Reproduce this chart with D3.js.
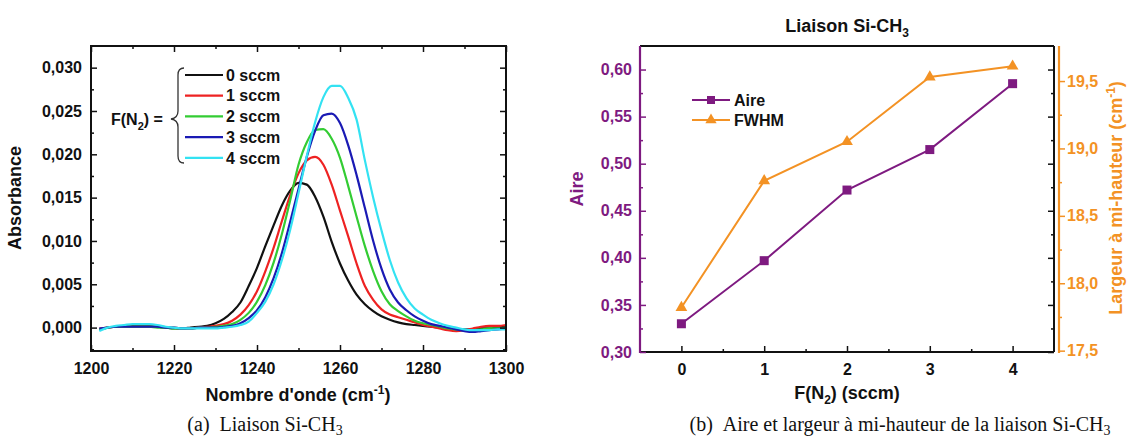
<!DOCTYPE html>
<html><head><meta charset="utf-8">
<script src="https://cdn.jsdelivr.net/npm/d3@7"></script>
<style>
body{margin:0;background:#fff;}
svg{display:block;}
text{font-family:"Liberation Sans",Arial,sans-serif;}
</style></head><body>
<svg id="c" width="1137" height="445"></svg>
<script>
// ---------- data: panel (a) ----------
const wavenumber = [1202,1204,1206,1208,1210,1212,1214,1216,1218,1220,1222,1224,1226,1228,1230,1232,1234,1236,1238,1240,1242,1244,1246,1248,1250,1252,1254,1256,1258,1260,1262,1264,1266,1268,1270,1272,1274,1276,1278,1280,1282,1284,1286,1288,1290,1292,1294,1296,1298,1300];
const abs0 = [-0.0002,0.0000,0.0001,0.0002,0.0002,0.0002,0.0002,0.0001,0.0000,-0.0001,-0.0001,0.0000,0.0001,0.0002,0.0005,0.0010,0.0018,0.0029,0.0048,0.0069,0.0094,0.0118,0.0141,0.0158,0.0167,0.0165,0.0151,0.0128,0.0099,0.0074,0.0054,0.0038,0.0027,0.0019,0.0013,0.0009,0.0006,0.0004,0.0003,0.0002,0.0001,0.0000,-0.0001,-0.0002,-0.0002,-0.0002,-0.0001,-0.0001,0.0000,0.0001];
const abs1 = [-0.0001,0.0000,0.0001,0.0001,0.0001,0.0001,0.0001,0.0001,0.0000,0.0000,-0.0001,-0.0001,0.0000,0.0001,0.0002,0.0004,0.0008,0.0015,0.0026,0.0042,0.0065,0.0092,0.0123,0.0153,0.0178,0.0193,0.0197,0.0188,0.0165,0.0135,0.0105,0.0074,0.0048,0.0032,0.0021,0.0015,0.0012,0.0009,0.0006,0.0003,0.0001,-0.0001,-0.0003,-0.0004,-0.0003,-0.0001,0.0001,0.0002,0.0002,0.0003];
const abs2 = [-0.0002,0.0000,0.0001,0.0001,0.0001,0.0001,0.0001,0.0000,0.0000,-0.0001,-0.0001,-0.0001,0.0000,0.0000,0.0001,0.0002,0.0004,0.0009,0.0017,0.0030,0.0049,0.0075,0.0108,0.0147,0.0188,0.0214,0.0228,0.0229,0.0218,0.0196,0.0163,0.0128,0.0094,0.0065,0.0042,0.0027,0.0019,0.0013,0.0008,0.0005,0.0003,0.0001,-0.0001,-0.0002,-0.0003,-0.0003,-0.0002,-0.0001,-0.0001,0.0000];
const abs3 = [-0.0001,0.0000,0.0001,0.0001,0.0001,0.0001,0.0001,0.0001,0.0000,0.0000,-0.0001,-0.0001,0.0000,0.0000,0.0000,0.0001,0.0002,0.0005,0.0011,0.0020,0.0035,0.0057,0.0086,0.0122,0.0160,0.0197,0.0227,0.0245,0.0247,0.0236,0.0210,0.0176,0.0138,0.0100,0.0068,0.0044,0.0029,0.0020,0.0013,0.0008,0.0004,0.0002,0.0000,-0.0002,-0.0004,-0.0005,-0.0004,-0.0003,-0.0002,-0.0001];
const abs4 = [-0.0004,0.0000,0.0002,0.0003,0.0004,0.0004,0.0004,0.0003,0.0001,0.0000,-0.0001,-0.0001,-0.0001,-0.0001,-0.0001,0.0000,0.0001,0.0003,0.0007,0.0017,0.0030,0.0050,0.0078,0.0113,0.0155,0.0198,0.0237,0.0266,0.0279,0.0279,0.0265,0.0240,0.0193,0.0150,0.0112,0.0078,0.0052,0.0034,0.0022,0.0015,0.0009,0.0005,0.0002,0.0000,-0.0002,-0.0003,-0.0003,-0.0003,-0.0002,-0.0002];
const seriesLabels = ["0 sccm","1 sccm","2 sccm","3 sccm","4 sccm"];
const seriesColors = ["#111111","#ee2222","#33cc33","#1a1ab4","#33e2f2"];
const xTicksA = [1200,1220,1240,1260,1280,1300];
const yTicksA = [0,0.005,0.010,0.015,0.020,0.025,0.030];

// ---------- data: panel (b) ----------
const flux = [0,1,2,3,4];
const aire = [0.330,0.397,0.472,0.515,0.585];
const fwhm = [17.82,18.76,19.05,19.53,19.61];
const xTicksB = [0,1,2,3,4];
const yTicksBL = [0.30,0.35,0.40,0.45,0.50,0.55,0.60];
const yTicksBR = [17.5,18.0,18.5,19.0,19.5];

const svg = d3.select("#c");
const fr = d3.formatLocale({decimal:",",thousands:"\u00a0",grouping:[3],currency:["",""]});
const FONT = '"Liberation Sans",Arial,sans-serif';

function styleAxis(g, color, fs){
  g.select(".domain").remove();
  g.selectAll("line").attr("stroke",color).attr("stroke-width",1.5);
  g.selectAll("text").attr("fill",color).style("font-size",(fs||16)+"px")
   .style("font-weight","bold").style("font-family",FONT);
}
function minors(majors){
  const out=[]; for(let i=0;i<majors.length-1;i++) out.push((majors[i]+majors[i+1])/2); return out;
}

// ================= Panel (a) =================
const xA = d3.scaleLinear().domain([1200,1300]).range([91,506]);
const yA = d3.scaleLinear().domain([-0.0027,0.0325]).range([351,46]);
const gA = svg.append("g");
gA.append("defs").append("clipPath").attr("id","clipA").append("rect")
  .attr("x",91).attr("y",46).attr("width",415).attr("height",305);

const series = [abs0,abs1,abs2,abs3,abs4];
const line = d3.line().x((d,i)=>xA(wavenumber[i])).y(d=>yA(d)).curve(d3.curveMonotoneX);
gA.append("g").attr("clip-path","url(#clipA)").selectAll("path").data(series).join("path")
  .attr("d",line).attr("fill","none").attr("stroke",(d,i)=>seriesColors[i]).attr("stroke-width",2.2);

// axes
const minXA = minors(xTicksA), minYA = minors(yTicksA).concat([-0.0025]);
gA.append("g").attr("transform","translate(0,351)")
  .call(d3.axisBottom(xA).tickValues(xTicksA).tickSize(-6).tickPadding(12).tickFormat(d3.format("d")))
  .call(g=>styleAxis(g,"#111"));
gA.append("g").attr("transform","translate(0,351)")
  .call(d3.axisBottom(xA).tickValues(minXA).tickSize(-3).tickFormat("")).call(g=>styleAxis(g,"#111"));
gA.append("g").attr("transform","translate(0,46)")
  .call(d3.axisTop(xA).tickValues(xTicksA).tickSize(-6).tickFormat("")).call(g=>styleAxis(g,"#111"));
gA.append("g").attr("transform","translate(0,46)")
  .call(d3.axisTop(xA).tickValues(minXA).tickSize(-3).tickFormat("")).call(g=>styleAxis(g,"#111"));
gA.append("g").attr("transform","translate(91,0)")
  .call(d3.axisLeft(yA).tickValues(yTicksA).tickSize(-6).tickPadding(9).tickFormat(fr.format(".3f")))
  .call(g=>styleAxis(g,"#111"));
gA.append("g").attr("transform","translate(91,0)")
  .call(d3.axisLeft(yA).tickValues(minYA).tickSize(-3).tickFormat("")).call(g=>styleAxis(g,"#111"));
gA.append("g").attr("transform","translate(506,0)")
  .call(d3.axisRight(yA).tickValues(yTicksA).tickSize(-6).tickFormat("")).call(g=>styleAxis(g,"#111"));
gA.append("g").attr("transform","translate(506,0)")
  .call(d3.axisRight(yA).tickValues(minYA).tickSize(-3).tickFormat("")).call(g=>styleAxis(g,"#111"));
gA.append("rect").attr("x",91).attr("y",46).attr("width",415).attr("height",305)
  .attr("fill","none").attr("stroke","#111").attr("stroke-width",2);

// axis titles
gA.append("text").attr("transform","translate(21,198) rotate(-90)").attr("text-anchor","middle")
  .style("font-size","18px").style("font-weight","bold").attr("fill","#111").text("Absorbance");
const xtA = gA.append("text").attr("x",298).attr("y",401).attr("text-anchor","middle")
  .style("font-size","18px").style("font-weight","bold").attr("fill","#111");
xtA.append("tspan").text("Nombre d'onde (cm");
xtA.append("tspan").attr("dy",-7).style("font-size","12px").text("-1");
xtA.append("tspan").attr("dy",7).text(")");

// legend
const legY0 = 75, legDy = 20.7;
seriesLabels.forEach((lab,i)=>{
  const y = legY0 + i*legDy;
  gA.append("line").attr("x1",185).attr("x2",223).attr("y1",y).attr("y2",y)
    .attr("stroke",seriesColors[i]).attr("stroke-width",2.2);
  gA.append("text").attr("x",226).attr("y",y).attr("dy","0.36em")
    .style("font-size","16px").style("font-weight","bold").attr("fill","#111").text(lab);
});
const fn = gA.append("text").attr("x",111).attr("y",119).attr("dy","0.36em")
  .style("font-size","16px").style("font-weight","bold").attr("fill","#111");
fn.append("tspan").text("F(N");
fn.append("tspan").attr("dy",5).style("font-size","11px").text("2");
fn.append("tspan").attr("dy",-5).text(") =");
gA.append("path")
  .attr("d","M184,68 Q178,68 178,75 L178,111 Q178,118 171,119 Q178,120 178,127 L178,156 Q178,163 184,163")
  .attr("fill","none").attr("stroke","#333").attr("stroke-width",1.3);

// ================= Panel (b) =================
const purple = "#7e1a80", orange = "#f39224";
const xB = d3.scaleLinear().domain([-0.5,4.5]).range([640,1054]);
const yL = d3.scaleLinear().domain([0.30,0.625]).range([352,46]);
const yR = d3.scaleLinear().domain([17.49,19.76]).range([352,46]);
const gB = svg.append("g");

const minXB = minors(xTicksB);
const minYBL = minors(yTicksBL);
const minYBR = minors(yTicksBR);

// frame lines
gB.append("line").attr("x1",640).attr("x2",1054).attr("y1",46).attr("y2",46).attr("stroke","#111").attr("stroke-width",2);
gB.append("line").attr("x1",1054).attr("x2",1054).attr("y1",46).attr("y2",352).attr("stroke","#111").attr("stroke-width",2);
gB.append("line").attr("x1",640).attr("x2",1054).attr("y1",352).attr("y2",352).attr("stroke","#111").attr("stroke-width",2);
gB.append("line").attr("x1",640).attr("x2",640).attr("y1",46).attr("y2",353).attr("stroke",purple).attr("stroke-width",2.2);
gB.append("line").attr("x1",1059).attr("x2",1059).attr("y1",46).attr("y2",353).attr("stroke",orange).attr("stroke-width",2.2);

gB.append("g").attr("transform","translate(0,352)")
  .call(d3.axisBottom(xB).tickValues(xTicksB).tickSize(-6).tickPadding(12).tickFormat(d3.format("d")))
  .call(g=>styleAxis(g,"#111"));
gB.append("g").attr("transform","translate(0,352)")
  .call(d3.axisBottom(xB).tickValues(minXB).tickSize(-3).tickFormat("")).call(g=>styleAxis(g,"#111"));
gB.append("g").attr("transform","translate(640,0)")
  .call(d3.axisLeft(yL).tickValues(yTicksBL).tickSize(-6).tickPadding(8).tickFormat(fr.format(".2f")))
  .call(g=>styleAxis(g,purple));
gB.append("g").attr("transform","translate(640,0)")
  .call(d3.axisLeft(yL).tickValues(minYBL).tickSize(-3).tickFormat("")).call(g=>styleAxis(g,purple));
gB.append("g").attr("transform","translate(1054,0)")
  .call(d3.axisRight(yL).tickValues(yTicksBL).tickSize(-6).tickFormat("")).call(g=>styleAxis(g,"#111"));
gB.append("g").attr("transform","translate(1054,0)")
  .call(d3.axisRight(yL).tickValues(minYBL).tickSize(-3).tickFormat("")).call(g=>styleAxis(g,"#111"));
gB.append("g").attr("transform","translate(1059,0)")
  .call(d3.axisRight(yR).tickValues(yTicksBR).tickSize(6).tickPadding(2).tickFormat(fr.format(".1f")))
  .call(g=>styleAxis(g,orange));
gB.append("g").attr("transform","translate(1059,0)")
  .call(d3.axisRight(yR).tickValues(minYBR).tickSize(3).tickFormat("")).call(g=>styleAxis(g,orange));

// series lines
const lineL = d3.line().x((d,i)=>xB(flux[i])).y(d=>yL(d));
const lineR = d3.line().x((d,i)=>xB(flux[i])).y(d=>yR(d));
gB.append("path").attr("d",lineR(fwhm)).attr("fill","none").attr("stroke",orange).attr("stroke-width",2);
gB.append("path").attr("d",lineL(aire)).attr("fill","none").attr("stroke",purple).attr("stroke-width",2);
gB.selectAll("path.tri").data(fwhm).join("path").attr("class","tri")
  .attr("transform",(d,i)=>`translate(${xB(flux[i])},${yR(d)})`)
  .attr("d",d3.symbol(d3.symbolTriangle,60)).attr("fill",orange);
gB.selectAll("rect.sq").data(aire).join("rect").attr("class","sq")
  .attr("x",(d,i)=>xB(flux[i])-4.5).attr("y",d=>yL(d)-4.5).attr("width",9).attr("height",9).attr("fill",purple);

// legend
gB.append("line").attr("x1",692).attr("x2",730).attr("y1",100).attr("y2",100).attr("stroke",purple).attr("stroke-width",2);
gB.append("rect").attr("x",707).attr("y",96).attr("width",8).attr("height",8).attr("fill",purple);
gB.append("text").attr("x",734).attr("y",100).attr("dy","0.36em").style("font-size","16px").style("font-weight","bold").attr("fill","#111").text("Aire");
gB.append("line").attr("x1",692).attr("x2",730).attr("y1",120).attr("y2",120).attr("stroke",orange).attr("stroke-width",2);
gB.append("path").attr("transform","translate(711,120)").attr("d",d3.symbol(d3.symbolTriangle,55)).attr("fill",orange);
gB.append("text").attr("x",734).attr("y",120).attr("dy","0.36em").style("font-size","16px").style("font-weight","bold").attr("fill","#111").text("FWHM");

// titles
const tB = gB.append("text").attr("x",847).attr("y",32).attr("text-anchor","middle")
  .style("font-size","18px").style("font-weight","bold").attr("fill","#111");
tB.append("tspan").text("Liaison Si-CH");
tB.append("tspan").attr("dy",5).style("font-size","12px").text("3");
const xtB = gB.append("text").attr("x",847).attr("y",399).attr("text-anchor","middle")
  .style("font-size","18px").style("font-weight","bold").attr("fill","#111");
xtB.append("tspan").text("F(N");
xtB.append("tspan").attr("dy",5).style("font-size","12px").text("2");
xtB.append("tspan").attr("dy",-5).text(") (sccm)");
gB.append("text").attr("transform","translate(583,189) rotate(-90)").attr("text-anchor","middle")
  .style("font-size","18px").style("font-weight","bold").attr("fill",purple).text("Aire");
const ytR = gB.append("text").attr("transform","translate(1122,198) rotate(-90)").attr("text-anchor","middle")
  .style("font-size","18px").style("font-weight","bold").attr("fill",orange);
ytR.append("tspan").text("Largeur à mi-hauteur (cm");
ytR.append("tspan").attr("dy",-7).style("font-size","12px").text("-1");
ytR.append("tspan").attr("dy",7).text(")");

// captions
function caption(x, label, body){
  const t = svg.append("text").attr("x",x).attr("y",431).attr("text-anchor","middle")
    .style("font-family",'"Liberation Serif","DejaVu Serif",serif').style("font-size","20px").attr("fill","#111");
  t.append("tspan").text(label+"\u2002"+body);
  t.append("tspan").attr("dy",4).style("font-size","14px").text("3");
}
caption(265,"(a)","Liaison Si-CH");
caption(900,"(b)","Aire et largeur à mi-hauteur de la liaison Si-CH");
</script>
</body></html>
